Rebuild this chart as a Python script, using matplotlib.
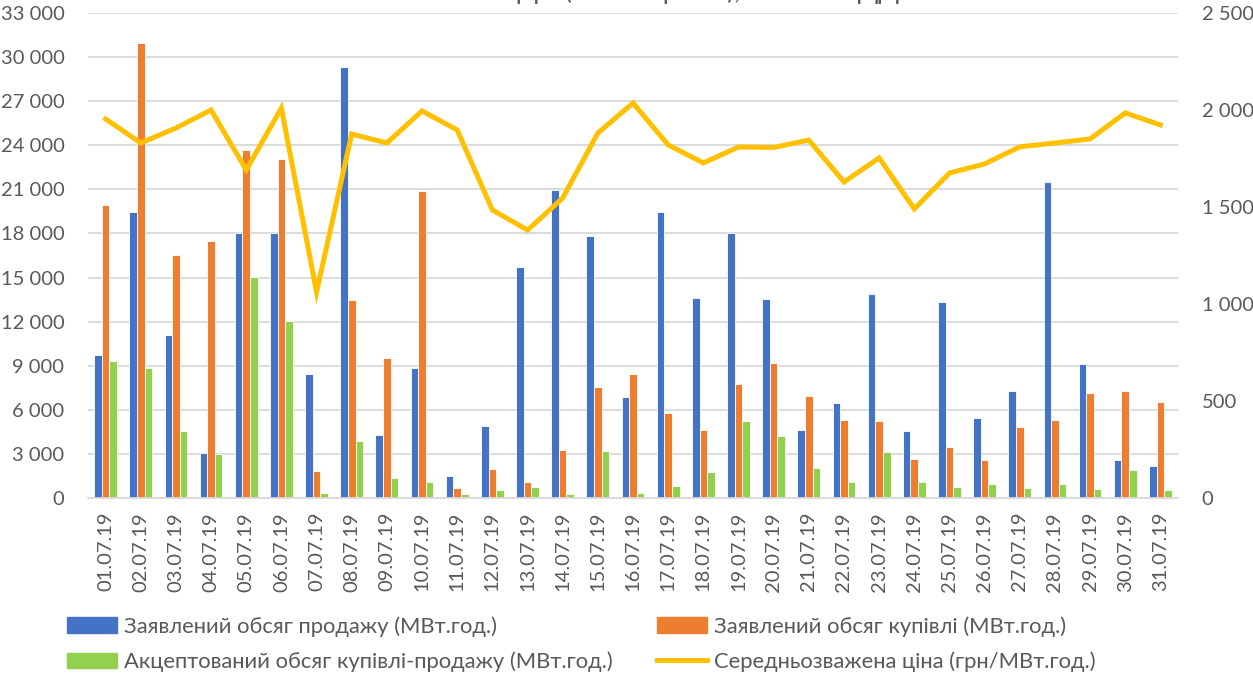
import matplotlib
matplotlib.use("Agg")
import matplotlib.pyplot as plt
from matplotlib.ticker import FuncFormatter, MultipleLocator
from matplotlib.patches import Patch
from matplotlib.lines import Line2D
import numpy as np

plt.rcParams['font.family'] = ['Lato', 'DejaVu Sans']

dates = [f"{d:02d}.07.19" for d in range(1, 32)]
sale = [9730, 19460, 11090, 3060, 18030, 18050, 8440, 29330, 4290, 8850, 1500,
        4900, 15720, 20960, 17830, 6870, 19460, 13610, 18030, 13540, 4630,
        6460, 13880, 4560, 13340, 5440, 7280, 21500, 9120, 2590, 2180]
purchase = [19940, 30960, 16530, 17490, 23680, 23070, 1840, 13470, 9530, 20890, 680,
            1970, 1090, 3270, 7550, 8440, 5780, 4630, 7760, 9190, 6940,
            5310, 5240, 2650, 3470, 2590, 4830, 5310, 7140, 7280, 6530]
accepted = [9320, 8850, 4560, 2990, 15040, 12040, 340, 3880, 1360, 1090, 270,
            540, 750, 270, 3200, 340, 820, 1770, 5240, 4220, 2040,
            1090, 3130, 1090, 750, 950, 680, 950, 610, 1900, 540]
price = [1954, 1830, 1907, 2000, 1691, 2010, 1062, 1876, 1830, 1995, 1897,
         1485, 1381, 1546, 1881, 2036, 1820, 1727, 1809, 1807, 1845,
         1629, 1753, 1490, 1675, 1722, 1810, 1830, 1851, 1985, 1923]

labels = ["Заявлений обсяг продажу (МВт.год.)",
          "Заявлений обсяг купівлі (МВт.год.)",
          "Акцептований обсяг купівлі-продажу (МВт.год.)",
          "Середньозважена ціна (грн/МВт.год.)"]
title = "Обсяги на РДН (ОЕС України), липень ВДД"

c_blue, c_orange, c_green, c_line = "#4472C4", "#ED7D31", "#92D050", "#FFC000"
grid_c = "#D9D9D9"
txt_c = "#595959"

fig = plt.figure(figsize=(12.53, 6.74), dpi=100)
ax = fig.add_axes([88/1253, 1-498/674, (1178-88)/1253, (498-13)/674])
ax2 = ax.twinx()

x = np.arange(len(dates))
w = 0.216
for off, vals, col in [(-w, sale, c_blue), (0, purchase, c_orange), (w, accepted, c_green)]:
    ax.bar(x + off, vals, width=w, color=col, edgecolor='white', linewidth=0.6, zorder=2)

ax2.plot(x, price, color=c_line, linewidth=3.6, solid_joinstyle='miter', zorder=3)

ax.set_xlim(-0.5, len(dates) - 0.5)
ax.set_ylim(0, 33000)
ax2.set_ylim(0, 2500)
ax.yaxis.set_major_locator(MultipleLocator(3000))
ax2.yaxis.set_major_locator(MultipleLocator(500))
fmt = FuncFormatter(lambda v, p: f"{int(v):,}".replace(",", " "))
ax.yaxis.set_major_formatter(fmt)
ax2.yaxis.set_major_formatter(fmt)
ax.grid(axis='y', color=grid_c, linewidth=1.3, zorder=0)
ax.set_axisbelow(True)

ax.set_xticks(x)
ax.set_xticklabels(dates, rotation=90)
for a in (ax, ax2):
    for s in a.spines.values():
        s.set_visible(False)
    a.tick_params(length=0, colors=txt_c, labelsize=14.5)
ax.spines['bottom'].set_visible(True)
ax.spines['bottom'].set_color(grid_c)
ax.spines['bottom'].set_linewidth(1.3)
ax.tick_params(axis='y', pad=17)
ax2.tick_params(axis='y', pad=17)
ax.tick_params(axis='x', pad=10)

fig.text(0.507, 1.001, title, ha='center', va='baseline', fontsize=19, color=txt_c)

handles = [Patch(color=c_blue), Patch(color=c_green), Patch(color=c_orange),
           Line2D([0], [0], color=c_line, linewidth=3.6)]
leg_labels = [labels[0], labels[2], labels[1], labels[3]]
fig.legend(handles, leg_labels, ncol=2, loc='upper left',
           bbox_to_anchor=(67/1253, 1-616/674), frameon=False,
           fontsize=15.8, handlelength=2.3, handletextpad=0.3,
           columnspacing=2.0, labelspacing=0.68, borderpad=0, borderaxespad=0,
           labelcolor=txt_c)

fig.savefig("out.png", dpi=100)
